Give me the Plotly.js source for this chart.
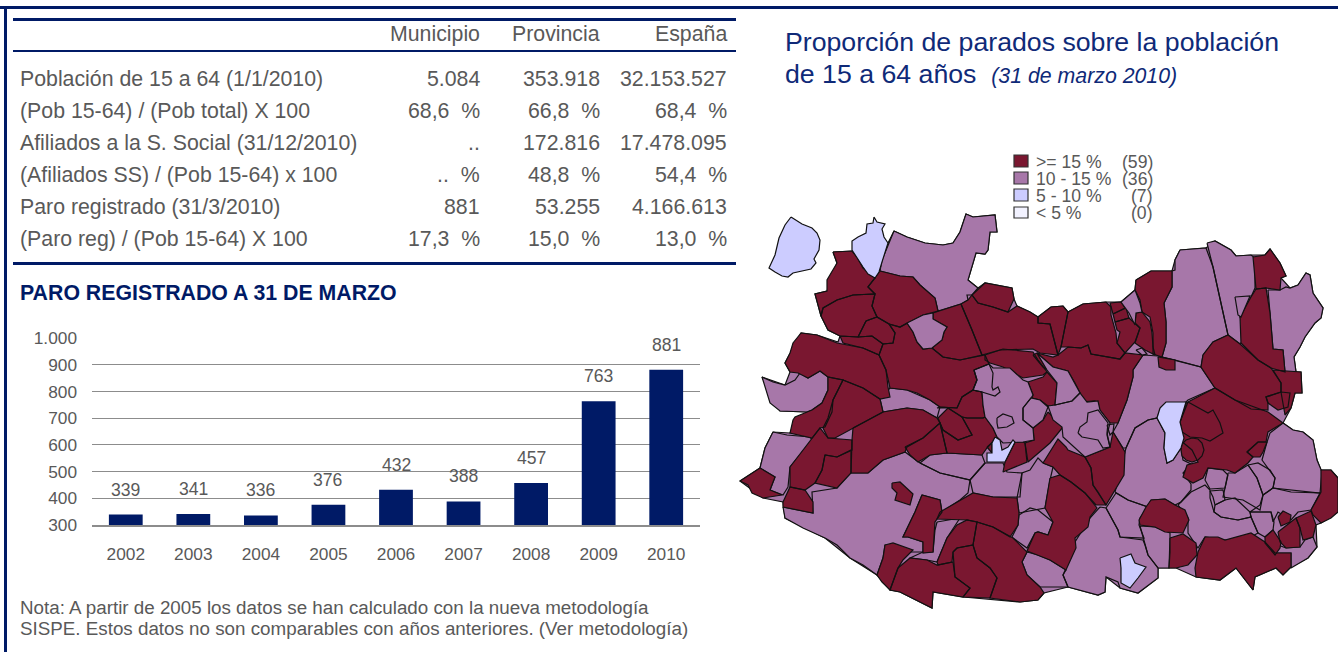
<!DOCTYPE html>
<html><head><meta charset="utf-8">
<script src="https://cdn.plot.ly/plotly-3.0.1.min.js"></script>
<style>html,body{margin:0;padding:0;background:#fff}#c{width:1338px;height:652px}</style>
</head><body><div id="c"></div>
<script>
const years = ['2002','2003','2004','2005','2006','2007','2008','2009','2010'];
const paro = [339,341,336,376,432,388,457,763,881];
const paroTickVals = [300,400,500,600,700,800,900,1000];
const paroTickText = ['300','400','500','600','700','800','900','1.000'];
const colHeaders = ['Municipio','Provincia','España'];
const rowLabels = ['Población de 15 a 64 (1/1/2010)','(Pob 15-64) / (Pob total) X 100','Afiliados a la S. Social (31/12/2010)','(Afiliados SS) / (Pob 15-64) x 100','Paro registrado (31/3/2010)','(Paro reg) / (Pob 15-64) X 100'];
const colMunicipio = ['5.084','68,6 %','..','.. %','881','17,3 %'];
const colProvincia = ['353.918','66,8 %','172.816','48,8 %','53.255','15,0 %'];
const colEspana = ['32.153.527','68,4 %','17.478.095','54,4 %','4.166.613','13,0 %'];
const legendLabels = ['>= 15 %','10 - 15 %','5 - 10 %','< 5 %'];
const legendCounts = ['(59)','(36)','(7)','(0)'];
const colors = {alto:'#7A1730',medio:'#A777A9',bajo:'#CCCCFF',minimo:'#F2F2FF'};

// Municipal boundaries, in map units, grouped by class
const contorno = [[833,252,852,251,857,257,863,267,875,278,880,271,882,260,888,243,894,231,907,237,925,243,943,245,953,243,960,232,966,214,973,217,995,215,997,232,990,232,988,250,985,254,976,253,968,280,978,288,985,283,1012,288,1014,299,1017,306,1030,312,1038,317,1051,307,1063,306,1068,312,1083,304,1106,302,1121,302,1135,290,1136,280,1151,271,1172,271,1175,260,1180,250,1206,248,1215,241,1231,250,1236,256,1251,255,1265,255,1270,249,1280,263,1286,276,1281,278,1290,288,1298,285,1306,273,1310,275,1313,293,1323,308,1321,318,1315,323,1305,337,1300,347,1294,357,1296,372,1301,372,1302,393,1295,393,1291,408,1283,423,1293,430,1303,432,1313,440,1317,460,1321,470,1331,470,1338,478,1338,512,1321,523,1316,525,1317,547,1308,558,1291,567,1283,575,1276,568,1255,577,1253,590,1236,568,1220,580,1196,577,1176,568,1158,568,1158,578,1138,593,1120,588,1106,577,1105,592,1098,595,1068,587,1044,593,1038,600,1020,602,963,597,933,592,932,608,900,592,890,590,877,575,850,558,825,538,785,518,783,502,763,498,740,481,760,468,765,448,773,432,790,433,807,412,780,411,762,377,785,385,790,372,785,363,801,333,817,335,838,342,840,336,828,330,821,316,815,294,827,291,837,263]];
const zonasMedio = [
[894,231,907,237,925,243,943,245,953,243,960,232,966,214,973,217,995,215,997,232,990,232,988,250,985,254,976,253,968,280,978,288,972,295,967,295,968,300,961,304,938,311,935,298,920,285,913,277,900,276,880,271,882,260],
[880,399,890,388,907,390,930,400,940,407,937,418,923,410,907,408,883,412],
[762,377,773,382,785,385,795,380,800,373,808,378,820,371,828,377,828,390,822,403,812,410,807,412,780,411,770,403],
[773,432,787,435,810,437,812,440,790,467,788,487,783,495,770,490,775,477,760,468,765,448],
[783,507,813,513,812,492,837,488,850,473,868,473,883,460,905,452,920,463,940,473,970,480,968,493,960,500,942,512,940,500,922,495,915,512,903,537,908,537,923,542,923,552,910,552,885,545,883,558,877,575,863,565,850,558,837,545,825,538,803,528,785,518],
[937,522,960,518,947,538,937,562,927,560,910,558,923,552,933,552,935,530],
[920,463,930,455,947,453,982,455,985,463,973,477,970,480,940,473],
[985,463,1003,463,1007,472,1022,473,1020,497,993,497,973,493,970,480],
[1019,513,1017,498,1022,473,1030,470,1038,458,1043,463,1053,467,1050,480,1045,508,1035,510],
[1012,537,1018,525,1019,515,1030,508,1038,510,1053,522,1048,535,1038,532,1035,533,1027,548,1013,538],
[1027,552,1038,555,1050,560,1066,570,1063,575,1068,587,1040,587,1027,575,1022,562],
[1143,355,1158,356,1175,360,1201,367,1215,388,1188,400,1186,402,1161,408,1157,418,1148,420,1135,428,1126,448,1123,448,1113,432,1118,423,1127,400,1133,377,1133,370],
[1115,492,1126,448,1135,428,1148,420,1157,418,1165,433,1164,448,1167,463,1173,460,1181,448,1183,460,1191,464,1183,473,1191,484,1191,490,1181,502,1175,505,1165,499,1151,500,1148,507,1128,500],
[1180,250,1206,248,1213,267,1228,335,1213,342,1203,355,1201,367,1175,360,1162,357,1166,343,1166,322,1164,303,1172,287,1172,271,1175,270,1175,260],
[1207,243,1215,241,1231,250,1236,256,1251,255,1255,258,1255,288,1251,297,1240,317,1247,335,1240,344,1228,335,1213,267],
[1268,290,1280,290,1286,287,1290,288,1298,285,1306,273,1310,275,1313,293,1323,308,1321,318,1315,323,1305,337,1300,347,1294,357,1296,372,1285,372,1283,350,1273,349,1270,313],
[1267,442,1270,433,1283,423,1293,430,1303,432,1313,440,1317,460,1322,472,1320,493,1273,488,1275,478,1262,460],
[1208,468,1223,470,1228,475,1225,488,1210,489,1205,480],
[1228,473,1235,473,1248,465,1257,478,1263,495,1260,510,1243,500,1223,497,1225,488],
[1248,465,1258,463,1270,470,1275,478,1273,488,1263,495,1257,478],
[1263,495,1273,488,1291,492,1320,493,1311,510,1298,512,1291,520,1278,512,1273,522,1271,512,1261,512,1250,512,1260,505],
[1210,491,1223,490,1225,500,1215,505,1213,497],
[1215,505,1225,500,1235,498,1250,512,1251,517,1238,520,1221,517,1214,512],
[1251,517,1250,512,1261,512,1271,512,1274,522,1273,530,1265,537,1258,533],
[1178,505,1191,492,1205,485,1210,490,1210,498,1214,512,1221,517,1238,520,1251,517,1258,533,1251,537,1225,540,1205,537,1198,548,1188,533,1188,518],
[1278,545,1286,548,1300,547,1305,540,1313,537,1317,547,1308,558,1291,568,1291,553,1275,553],
[1140,526,1155,527,1170,533,1170,538,1169,568,1158,568,1148,555,1145,545],
[1100,507,1106,508,1118,530,1120,537,1143,540,1145,545,1148,555,1158,568,1158,578,1138,593,1120,588,1118,582,1106,577,1105,592,1098,595,1068,587,1063,575,1073,552,1075,542,1090,518],
[1106,508,1116,493,1128,500,1148,507,1140,518,1139,525,1144,538,1120,537,1118,530]
];
const islasMedio = [
[907,323,923,315,933,313,933,319,940,323,947,327,944,332,942,340,932,348,923,349,917,342,913,332],
[1121,302,1135,290,1140,303,1142,312,1136,313,1135,325,1129,313],
[1235,297,1250,296,1241,317,1238,315],
[1136,350,1142,348,1147,354,1142,355],
[974,370,989,364,993,368,1010,368,1023,380,1028,382,1033,395,1031,398,1023,408,1023,420,1033,428,1034,440,1023,442,1003,443,997,437,993,428,985,417,983,405,982,392,973,390,977,380],
[974,370,989,364,993,373,992,387,993,390,998,387,1000,392,995,396,982,392,973,390,977,380],
[997,418,1003,414,1012,417,1014,423,1007,427,998,428,997,423],
[1023,408,1031,398,1040,400,1048,407,1043,420,1033,428,1023,420],
[1037,353,1053,367,1068,371,1075,383,1080,393,1072,401,1055,405,1057,383,1047,370],
[1048,406,1055,405,1072,401,1080,393,1087,402,1098,401,1100,410,1110,423,1107,435,1110,447,1085,457,1063,437,1062,427,1053,420],
[1078,433,1080,427,1087,422,1088,413,1098,410,1108,423,1107,433,1110,447,1103,448,1098,440,1082,437],
[1107,425,1114,424,1113,432,1110,435]
];
const zonasAlto = [
[833,252,852,251,857,257,863,268,875,278,868,287,875,294,853,295,837,300,823,308,821,316,815,294,827,291,827,280,837,263],
[880,271,900,276,913,277,920,285,935,298,938,311,923,315,907,323,900,327,889,324,877,317,872,306,875,294,868,287],
[823,308,837,300,853,295,875,294,872,306,877,317,866,321,858,337,840,336,828,330,821,316],
[866,321,877,317,889,324,895,333,893,343,883,344,872,336,858,337],
[840,336,858,337,872,336,883,344,879,355,863,348,843,343],
[801,333,817,335,837,343,863,348,879,355,886,370,888,387,890,397,880,399,863,388,843,380,828,377,820,371,808,378,798,373,790,372,785,363,790,353,793,343],
[889,324,900,327,907,323,913,332,917,342,923,349,932,348,943,357,960,360,982,355,985,355,989,364,974,370,977,380,973,390,962,397,957,408,940,407,930,400,917,393,907,390,890,388,886,370,879,355,883,344,893,343,895,333],
[933,313,961,304,972,330,982,355,960,360,943,357,932,348,942,340,944,332,947,327,940,323,933,319],
[972,295,985,283,1012,288,1014,299,1008,312,993,307,978,303],
[961,304,968,300,972,295,978,303,993,307,1008,312,1017,306,1030,312,1038,317,1038,323,1050,324,1058,355,1040,353,1033,349,1000,350,982,355,972,330],
[1038,317,1051,307,1063,306,1068,312,1064,332,1061,347,1058,355,1050,324,1038,323],
[985,355,1003,349,1033,352,1038,360,1047,372,1043,375,1023,378,1003,367,990,363,985,360],
[1033,355,1037,353,1047,370,1043,367],
[1068,312,1083,304,1106,302,1111,307,1111,315,1116,333,1117,343,1125,353,1120,359,1108,357,1091,354,1088,345,1081,348,1068,347,1061,347,1064,332],
[1037,353,1053,357,1058,355,1068,347,1081,348,1088,345,1091,354,1108,357,1120,359,1125,353,1143,355,1133,370,1133,377,1127,400,1118,423,1110,423,1100,410,1095,401,1081,402,1080,393,1075,383,1068,371,1053,367],
[1110,303,1121,302,1125,308,1113,314],
[1113,314,1126,308,1129,318,1115,322],
[1115,322,1129,318,1140,328,1135,342,1125,353,1117,343,1120,332,1117,330],
[1136,280,1151,271,1172,271,1172,287,1164,303,1166,322,1166,343,1162,357,1153,354,1153,333,1150,317,1142,312,1140,300,1135,290],
[1136,313,1142,312,1150,322,1152,333,1153,347,1155,355,1145,350,1135,343,1140,328,1135,323],
[1158,357,1175,360,1175,370,1166,370,1159,367],
[1253,257,1265,255,1270,249,1280,263,1286,276,1281,278,1280,290,1266,288,1256,289,1255,277],
[1256,289,1266,288,1270,313,1273,349,1283,350,1285,372,1271,368,1258,360,1241,343,1240,317,1251,297],
[1203,355,1213,342,1228,335,1240,344,1258,360,1271,368,1281,383,1281,392,1266,397,1268,403,1268,410,1251,409,1235,400,1215,388,1201,367],
[1273,370,1301,372,1302,393,1295,393,1291,408,1285,415,1281,392,1281,383],
[1281,392,1290,393,1288,407,1278,410,1268,403,1266,397],
[1186,403,1215,388,1235,400,1268,412,1283,423,1268,432,1266,442,1258,442,1247,452,1253,457,1248,463,1235,473,1227,470,1208,468,1203,478,1193,483,1183,477,1187,465,1198,462,1192,450,1180,440,1180,422],
[1188,402,1203,410,1208,413,1213,410,1220,423,1223,433,1210,441,1202,438,1190,437,1182,432,1180,422],
[1192,438,1198,439,1202,443,1204,450,1202,456,1198,460,1192,462,1186,460,1182,456,1181,450,1182,444,1186,440],
[1247,452,1258,442,1267,442,1263,452,1260,457,1253,457],
[1321,470,1331,470,1338,478,1338,512,1331,518,1321,523,1313,515,1311,510,1321,492],
[1205,537,1218,537,1225,540,1251,533,1265,542,1275,553,1291,553,1291,567,1283,575,1276,568,1255,577,1253,590,1236,568,1220,580,1196,577,1195,568,1198,552],
[1265,537,1273,530,1281,542,1280,548,1275,555,1265,543],
[1278,532,1296,518,1300,528,1300,547,1286,548,1280,542],
[1296,518,1311,511,1316,525,1313,537,1303,540,1300,528],
[1278,517,1283,511,1291,515,1290,522,1281,526],
[1151,500,1165,499,1175,505,1185,510,1189,520,1183,533,1165,532,1155,527,1140,525,1139,520,1146,507],
[1170,538,1183,534,1196,543,1197,555,1188,565,1176,568,1169,568,1170,552],
[1113,432,1123,448,1125,452,1124,475,1106,505,1098,492,1093,485,1091,468,1085,457,1110,447],
[1043,463,1058,439,1066,447,1068,450,1085,457,1091,468,1093,485,1106,505,1096,505,1085,493,1071,482,1060,475,1053,467],
[1050,478,1060,475,1071,482,1085,493,1097,508,1090,517,1088,527,1075,538,1076,548,1066,570,1050,560,1038,555,1027,551,1035,533,1038,532,1048,535,1053,522,1045,508],
[977,522,993,527,1013,538,1027,552,1022,562,1027,575,1040,587,1044,593,1038,600,1020,602,990,598,997,578,990,568,977,558,973,545],
[953,552,957,548,973,545,977,558,990,568,997,578,990,598,963,597,970,588,955,577],
[937,562,947,538,957,525,967,520,977,522,973,545,957,548,953,552,952,562,938,565],
[898,568,910,558,927,560,937,565,953,562,955,577,970,588,963,597,933,592,932,608,900,592,890,590],
[885,545,893,543,913,550,903,560,898,568,890,590,882,582,877,575,883,558],
[922,495,940,500,942,512,935,522,933,552,923,553,923,542,908,537,903,537,915,512],
[892,483,900,482,913,494,910,505,895,500,897,493,892,488],
[940,512,960,500,973,493,993,497,1017,498,1019,513,1018,525,1010,537,993,527,977,522,967,520,937,519],
[783,502,790,487,805,490,813,502,813,513,783,507],
[790,467,812,438,820,428,828,438,852,440,852,450,837,457,825,455,822,470,815,483,805,490,790,487],
[825,455,837,457,851,450,851,473,837,488,815,483,822,470],
[812,410,822,403,828,390,828,377,843,380,833,400,832,412,828,420,825,427,820,428,812,438,790,433,793,420,795,417],
[833,400,843,380,863,388,880,399,883,412,853,428,835,438,828,438,823,428,828,418,832,405],
[853,428,883,412,907,408,923,410,937,418,940,423,923,438,907,447,905,452,883,460,868,473,851,473,852,440],
[905,447,923,438,940,423,947,453,930,455,918,462,910,455],
[938,418,948,408,962,417,972,435,958,440,943,430,940,423],
[940,423,943,430,958,440,972,435,962,417,967,418,983,418,985,417,993,428,997,437,987,448,982,455,947,453],
[937,408,940,407,957,408,962,397,973,390,982,392,983,405,985,417,983,418,967,418,962,417,948,408],
[1005,462,1015,442,1023,442,1025,443,1027,462,1003,472],
[1048,412,1063,427,1050,443,1028,462,1025,443,1034,440,1033,428,1043,420],
[1028,382,1043,377,1047,372,1057,383,1055,405,1048,406,1040,400,1032,398,1033,395],
[760,468,775,477,770,490,782,495,763,498,752,493,748,485,740,481],
[987,447,992,443,992,453]
];
const zonasBajo = [
[791,217,802,224,812,228,817,233,820,240,819,250,814,259,816,263,811,269,800,271,793,273,788,277,782,276,775,272,769,268,775,255,779,238,785,225],
[874,217,877,222,885,224,882,229,884,237,888,243,882,262,879,272,875,278,868,274,863,267,857,257,852,250,852,241,858,237,866,233,867,224,873,223],
[1160,408,1166,402,1186,402,1180,422,1184,438,1181,448,1173,460,1167,463,1164,448,1165,433,1157,418],
[1120,558,1131,554,1135,563,1146,567,1138,578,1130,588,1121,583,1121,568],
[995,437,1000,440,1002,450,1008,447,1013,440,1015,442,1005,462,987,462,987,453,992,453,992,443]
];

function mapTrace(rings, color){
  const xs=[], ys=[];
  rings.forEach(r=>{
    for(let i=0;i<r.length;i+=2){xs.push(r[i]);ys.push(r[i+1]);}
    xs.push(r[0]);ys.push(r[1]);
    xs.push(null);ys.push(null);
  });
  return {type:'scatter',mode:'lines',x:xs,y:ys,fill:'toself',fillcolor:color,
    line:{color:'#111',width:1.2},hoverinfo:'skip',showlegend:false,xaxis:'x',yaxis:'y'};
}

const grey='#595959', navy='#001A66', title='#0F2A78', font='Liberation Sans, Arial, sans-serif';
const ann=[];
function txt(x,y,text,size,color,anchor){
  ann.push({xref:'x',yref:'y',x:x,y:y,text:text,showarrow:false,xanchor:anchor||'left',yanchor:'middle',
    font:{family:font,size:size,color:color||grey},align:anchor||'left',borderpad:0,borderwidth:0});
}
const wide=s=>s.replace(' %','&nbsp;&nbsp;%');
const colX=[480,600,727];
colHeaders.forEach((h,i)=>txt(colX[i],34,h,21.3,grey,'right'));
const rowY=[79,111,143,175,207,239];
rowLabels.forEach((t,i)=>{
  txt(20,rowY[i],t,21.3,grey,'left');
  txt(colX[0],rowY[i],wide(colMunicipio[i]),21.3,grey,'right');
  txt(colX[1],rowY[i],wide(colProvincia[i]),21.3,grey,'right');
  txt(colX[2],rowY[i],wide(colEspana[i]),21.3,grey,'right');
});
txt(20,293,'<b>PARO REGISTRADO A 31 DE MARZO</b>',21.3,navy,'left');
txt(20,607,'Nota: A partir de 2005 los datos se han calculado con la nueva metodología',18.8,grey,'left');
txt(20,628,'SISPE. Estos datos no son comparables con años anteriores. (Ver metodología)',18.8,grey,'left');
txt(785,42,'Proporción de parados sobre la población',26.7,title,'left');
txt(785,74,'de 15 a 64 años&nbsp;&nbsp;<i><span style="font-size:21.3px">(31 de marzo 2010)</span></i>',26.7,title,'left');
const legY=[162,179,196,213];
legendLabels.forEach((t,i)=>{
  txt(1036,legY[i],t.replace('<','&lt;'),17.6,grey,'left');
  txt(1153,legY[i],legendCounts[i],17.6,grey,'right');
});
paro.forEach((v,i)=>ann.push({xref:'x2',yref:'y2',x:i,y:v,text:String(v),showarrow:false,yshift:25,yanchor:'middle',
  font:{family:font,size:17.6,color:grey}}));

function rect(x0,y0,x1,y1,fill,lw){return {type:'rect',xref:'x',yref:'y',x0,y0,x1,y1,fillcolor:fill,line:{color:lw?'#333':fill,width:lw||0},layer:'above'};}
const legBox=[[155,167],[172,184],[189,201],[207,218]];
const legCols=[colors.alto,colors.medio,colors.bajo,colors.minimo];
const shapes=[
  rect(0,6,1338,9,navy),
  rect(4,6,7,652,navy),
  rect(13,18,736,21,navy),
  rect(13,50,736,52,navy),
  rect(13,262,736,265,navy)
];
legBox.forEach((b,i)=>shapes.push(rect(1014,b[0],1028,b[1],legCols[i],1.2)));

const barTrace={type:'bar',x:years.map((_,i)=>i),y:paro.map(v=>v-300),base:300,width:0.5,marker:{color:navy},xaxis:'x2',yaxis:'y2',hoverinfo:'skip',showlegend:false};

const layout={
  width:1338,height:652,margin:{l:0,r:0,t:0,b:0},paper_bgcolor:'#fff',plot_bgcolor:'rgba(0,0,0,0)',showlegend:false,
  font:{family:font,color:grey},
  xaxis:{domain:[0,1],range:[0,1338],visible:false,fixedrange:true},
  yaxis:{domain:[0,1],range:[652,0],visible:false,fixedrange:true},
  xaxis2:{domain:[92/1338,700/1338],anchor:'y2',type:'linear',range:[-0.5,8.5],tickvals:years.map((_,i)=>i),ticktext:years,
    showgrid:false,zeroline:false,showline:true,linecolor:'#8c8c8c',linewidth:2,ticks:'',ticklabelstandoff:12,tickfont:{family:font,size:17.3,color:grey},fixedrange:true},
  yaxis2:{domain:[1-525/652,1-337.5/652],anchor:'x2',range:[300,1002],tickvals:paroTickVals,ticktext:paroTickText,
    showgrid:true,gridcolor:'#8c8c8c',gridwidth:1,zeroline:false,showline:false,ticks:'',ticklabelstandoff:14,tickfont:{family:font,size:17.3,color:grey},fixedrange:true},
  annotations:ann,shapes:shapes
};
Plotly.newPlot('c',[mapTrace(contorno,colors.medio),mapTrace(zonasMedio,colors.medio),mapTrace(zonasAlto,colors.alto),mapTrace(islasMedio,colors.medio),mapTrace(zonasBajo,colors.bajo),barTrace],layout,{staticPlot:true,displayModeBar:false});
</script></body></html>
